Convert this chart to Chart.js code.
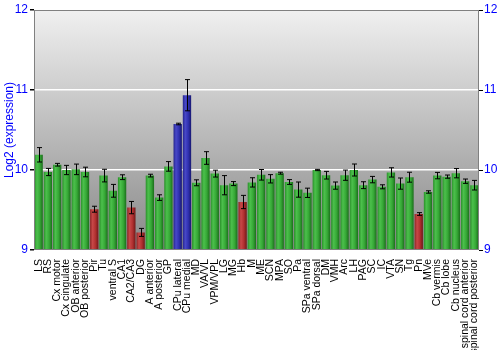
<!DOCTYPE html>
<html>
<head>
<meta charset="utf-8">
<script src="https://cdn.jsdelivr.net/npm/chart.js@4"></script>
<style>
  body { margin: 0; background: #fff; }
  #wrap { width: 500px; height: 350px; }
</style>
</head>
<body>
<div id="wrap"><canvas id="chart" width="500" height="350"></canvas></div>
<script>
const regions = ['LS', 'RS', 'Cx motor', 'Cx cingulate', 'OB anterior', 'OB posterior', 'Pir', 'Tu',
  'ventral S', 'CA1', 'CA2/CA3', 'DG', 'A anterior', 'A posterior', 'GP', 'CPu lateral', 'CPu medial',
  'MD', 'VA/VL', 'VPM/VPL', 'LG', 'MG', 'Hb', 'M', 'ME', 'SCN', 'MPA', 'SO', 'Pa', 'SPa ventral',
  'SPa dorsal', 'DM', 'VMH', 'Arc', 'LH', 'PAG', 'SC', 'IC', 'VTA', 'SN', 'Tg', 'Pn', 'MVe',
  'Cb vermis', 'Cb lobe', 'Cb nucleus', 'spinal cord anterior', 'spinal cord posterior'];

const expression = [10.19, 9.975, 10.066, 10.0, 10.008, 9.975, 9.51, 9.93,
  9.74, 9.91, 9.53, 9.22, 9.93, 9.655, 10.045, 10.575, 10.935,
  9.84, 10.15, 9.955, 9.81, 9.83, 9.6, 9.845, 9.94, 9.89, 9.96, 9.85, 9.755, 9.715,
  10.0, 9.935, 9.805, 9.935, 10.0, 9.81, 9.88, 9.79, 9.97, 9.83, 9.91, 9.45, 9.725,
  9.93, 9.917, 9.96, 9.86, 9.81];

const errors = [0.09, 0.045, 0.017, 0.058, 0.066, 0.06, 0.037, 0.079,
  0.08, 0.03, 0.077, 0.05, 0.017, 0.035, 0.06, 0.01, 0.195,
  0.037, 0.079, 0.043, 0.12, 0.025, 0.083, 0.058, 0.066, 0.052, 0.012, 0.03, 0.095, 0.058,
  0.008, 0.048, 0.045, 0.064, 0.075, 0.043, 0.04, 0.025, 0.058, 0.07, 0.062, 0.017, 0.015,
  0.04, 0.02, 0.058, 0.027, 0.06];

// g = green, r = red, b = blue
const groups = ['g', 'g', 'g', 'g', 'g', 'g', 'r', 'g',
  'g', 'g', 'r', 'r', 'g', 'g', 'g', 'b', 'b',
  'g', 'g', 'g', 'g', 'g', 'r', 'g', 'g', 'g', 'g', 'g', 'g', 'g',
  'g', 'g', 'g', 'g', 'g', 'g', 'g', 'g', 'g', 'g', 'g', 'r', 'g',
  'g', 'g', 'g', 'g', 'g'];

const yTicks = [9, 10, 11, 12];

const shades = {
  g: ['#2a8f2a', '#4cc04c', '#36a836', '#1b6e1b'],
  r: ['#8c2424', '#c84848', '#b03030', '#701818'],
  b: ['#24248c', '#4848c8', '#3030b0', '#181870']
};

const panelPlugin = {
  id: 'panel',
  beforeDraw(chart) {
    const { ctx, chartArea: a } = chart;
    const grad = ctx.createLinearGradient(0, a.top, 0, a.bottom);
    grad.addColorStop(0, '#f0f0f0');
    grad.addColorStop(1, '#888888');
    ctx.save();
    ctx.fillStyle = grad;
    ctx.fillRect(a.left, a.top, a.right - a.left, a.bottom - a.top);
    ctx.restore();
  },
  beforeDatasetsDraw(chart) {
    const ctx = chart.ctx;
    const meta = chart.getDatasetMeta(0);
    meta.data.forEach((bar, i) => {
      const s = shades[groups[i]];
      const x0 = bar.x - bar.width / 2, x1 = bar.x + bar.width / 2;
      const grad = ctx.createLinearGradient(x0, 0, x1, 0);
      grad.addColorStop(0, s[0]);
      grad.addColorStop(0.3, s[1]);
      grad.addColorStop(0.65, s[2]);
      grad.addColorStop(1, s[3]);
      bar.options = Object.assign({}, bar.options, { backgroundColor: grad });
    });
  },
  afterDatasetsDraw(chart) {
    const { ctx, chartArea: a } = chart;
    const y = chart.scales.y;
    const meta = chart.getDatasetMeta(0);
    ctx.save();
    ctx.strokeStyle = '#000';
    ctx.lineWidth = 1;
    meta.data.forEach((bar, i) => {
      const x = Math.round(bar.x) + 0.5;
      const top = y.getPixelForValue(expression[i] + errors[i]);
      const bot = y.getPixelForValue(expression[i] - errors[i]);
      ctx.beginPath();
      ctx.moveTo(x, top); ctx.lineTo(x, bot);
      ctx.moveTo(x - 2.5, top); ctx.lineTo(x + 2.5, top);
      ctx.moveTo(x - 2.5, bot); ctx.lineTo(x + 2.5, bot);
      ctx.stroke();
    });
    ctx.strokeStyle = '#808080';
    ctx.strokeRect(a.left + 0.5, a.top + 0.5, a.right - a.left - 1, a.bottom - a.top - 1);
    ctx.restore();
  }
};

const tickFont = { family: 'Liberation Sans, Arial, sans-serif', size: 12 };

new Chart(document.getElementById('chart'), {
  type: 'bar',
  data: {
    labels: regions,
    datasets: [{
      data: expression,
      backgroundColor: groups.map(g => shades[g][2]),
      borderWidth: 0,
      barPercentage: 0.9,
      categoryPercentage: 1.0
    }]
  },
  options: {
    responsive: false,
    animation: false,
    layout: { padding: { top: 10, left: 0, right: 0, bottom: 0 } },
    plugins: {
      legend: { display: false },
      tooltip: { enabled: false }
    },
    scales: {
      x: {
        grid: { display: false },
        border: { display: false },
        ticks: {
          autoSkip: false,
          minRotation: 90,
          maxRotation: 90,
          padding: 1,
          color: '#000',
          font: { family: 'Liberation Sans, Arial, sans-serif', size: 10.5 }
        },
        afterFit(scale) { scale.height = 100; }
      },
      y: {
        position: 'left',
        min: 9,
        max: 12,
        afterBuildTicks(scale) { scale.ticks = yTicks.map(v => ({ value: v })); },
        grid: {
          color: ctx => (ctx.tick && (ctx.tick.value === 10 || ctx.tick.value === 11)) ? '#ffffff' : 'rgba(0,0,0,0)',
          lineWidth: 1.5,
          tickLength: 4,
          tickColor: '#000'
        },
        border: { display: false },
        ticks: { color: '#0000ff', font: tickFont, padding: 2 },
        title: {
          display: true,
          text: 'Log2 (expression)',
          color: '#0000ff',
          font: tickFont,
          padding: { top: 2, bottom: 0 }
        },
        afterFit(scale) { scale.width = 34; }
      },
      y2: {
        position: 'right',
        min: 9,
        max: 12,
        afterBuildTicks(scale) { scale.ticks = yTicks.map(v => ({ value: v })); },
        grid: { drawOnChartArea: false, tickLength: 4, tickColor: '#000' },
        border: { display: false },
        ticks: { color: '#0000ff', font: tickFont, padding: 1 },
        afterFit(scale) { scale.width = 21; }
      }
    }
  },
  plugins: [panelPlugin]
});
</script>
</body>
</html>
